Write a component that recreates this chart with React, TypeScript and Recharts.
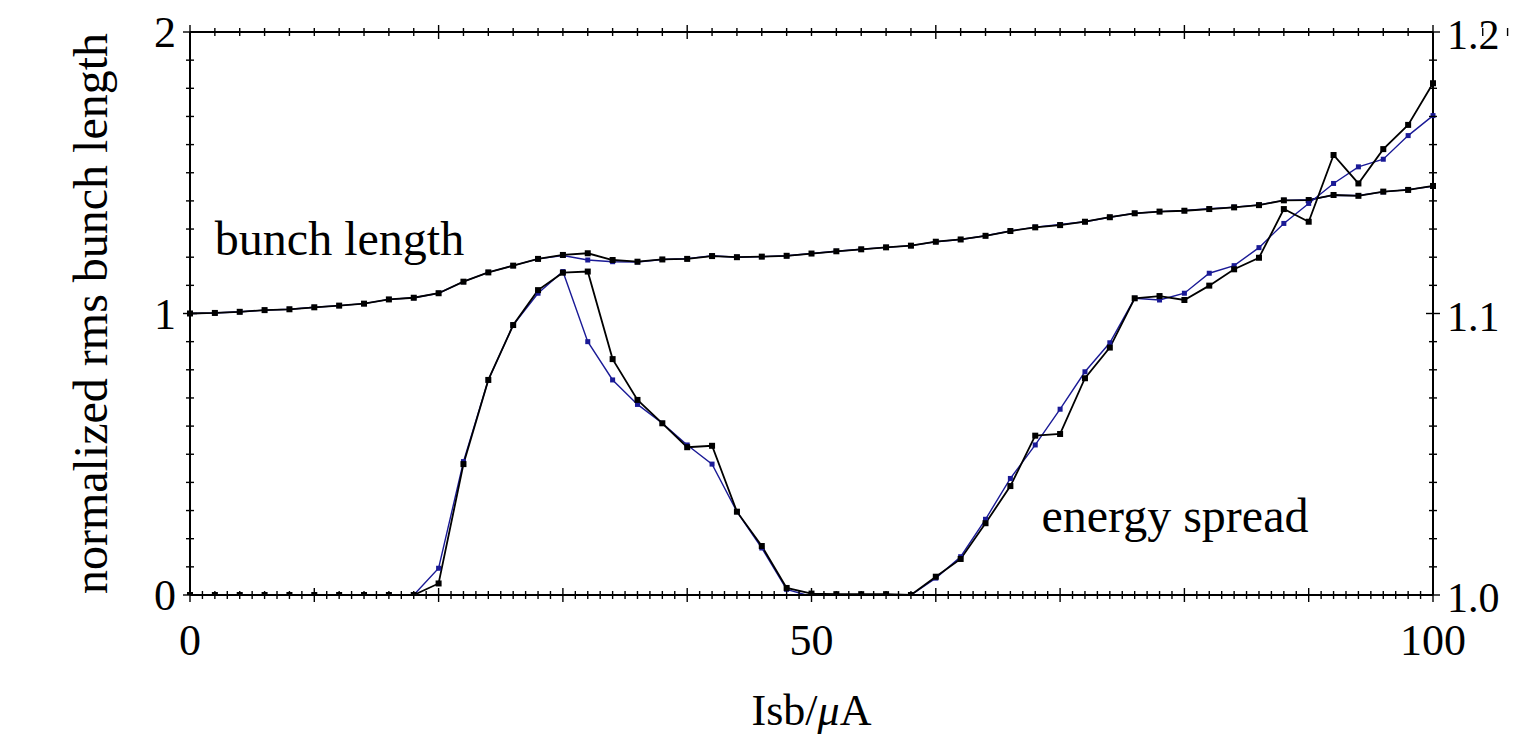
import React from 'react';
import { LineChart, Line, XAxis, YAxis, ReferenceDot } from 'recharts';

// beam current I_sb (µA)
const currents = [0, 2, 4, 6, 8, 10, 12, 14, 16, 18, 20, 22, 24, 26, 28, 30, 32, 34, 36, 38, 40, 42, 44, 46, 48, 50, 52, 54, 56, 58, 60, 62, 64, 66, 68, 70, 72, 74, 76, 78, 80, 82, 84, 86, 88, 90, 92, 94, 96, 98, 100];

// normalized rms bunch length (left axis)
const bunchLengthBlack = [1.000, 1.002, 1.006, 1.012, 1.015, 1.022, 1.028, 1.035, 1.050, 1.056, 1.072, 1.113, 1.146, 1.170, 1.194, 1.208, 1.214, 1.190, 1.184, 1.192, 1.194, 1.204, 1.200, 1.202, 1.205, 1.213, 1.221, 1.228, 1.235, 1.241, 1.255, 1.263, 1.276, 1.293, 1.306, 1.314, 1.326, 1.342, 1.356, 1.362, 1.365, 1.371, 1.377, 1.385, 1.402, 1.403, 1.421, 1.418, 1.433, 1.439, 1.453];
const bunchLengthBlue = [1.000, 1.002, 1.006, 1.012, 1.015, 1.022, 1.028, 1.035, 1.050, 1.056, 1.072, 1.113, 1.146, 1.170, 1.194, 1.206, 1.190, 1.184, 1.183, 1.192, 1.195, 1.205, 1.200, 1.202, 1.205, 1.213, 1.221, 1.228, 1.235, 1.241, 1.255, 1.263, 1.276, 1.293, 1.307, 1.316, 1.326, 1.342, 1.356, 1.362, 1.366, 1.372, 1.378, 1.386, 1.402, 1.404, 1.420, 1.419, 1.432, 1.440, 1.452];

// relative energy spread (right axis)
const energySpreadBlack = [1.0000, 1.0000, 1.0000, 1.0000, 1.0000, 1.0000, 1.0000, 1.0000, 1.0000, 1.0000, 1.0041, 1.0465, 1.0764, 1.0959, 1.1083, 1.1145, 1.1149, 1.0838, 1.0693, 1.0610, 1.0525, 1.0530, 1.0296, 1.0174, 1.0025, 1.0005, 1.0003, 1.0003, 1.0003, 1.0000, 1.0065, 1.0128, 1.0255, 1.0387, 1.0566, 1.0572, 1.0770, 1.0879, 1.1054, 1.1062, 1.1048, 1.1099, 1.1157, 1.1198, 1.1371, 1.1326, 1.1563, 1.1462, 1.1584, 1.1670, 1.1818];
const energySpreadBlue = [1.0000, 1.0000, 1.0000, 1.0000, 1.0000, 1.0000, 1.0000, 1.0000, 1.0000, 1.0000, 1.0095, 1.0474, 1.0764, 1.0959, 1.1072, 1.1149, 1.0900, 1.0764, 1.0677, 1.0610, 1.0533, 1.0465, 1.0296, 1.0167, 1.0020, 0.9995, 0.9995, 0.9995, 0.9995, 1.0000, 1.0060, 1.0136, 1.0269, 1.0414, 1.0533, 1.0660, 1.0793, 1.0896, 1.1054, 1.1048, 1.1072, 1.1143, 1.1170, 1.1234, 1.1320, 1.1391, 1.1462, 1.1521, 1.1548, 1.1632, 1.1703];

const xTickLabels = [0, 50, 100];
const leftTickLabels = [0, 1, 2];
const rightTickLabels = ['1.0', '1.1', '1.2'];

const data = currents.map((c, i) => ({
  I: c,
  blBlack: bunchLengthBlack[i],
  blBlue: bunchLengthBlue[i],
  esBlack: energySpreadBlack[i],
  esBlue: energySpreadBlue[i],
}));

const xMinorTicks = Array.from({ length: 101 }, (_, i) => i);
const leftMinorTicks = Array.from({ length: 21 }, (_, i) => i / 10);
const rightMinorTicks = Array.from({ length: 21 }, (_, i) => Math.round((1 + i / 100) * 100) / 100);

const FONT = '"Liberation Serif", "Times New Roman", serif';
const BLUE = '#1a1a96';

const SquareDot = (props: any) => {
  const { cx, cy, dotSize, dotColor } = props;
  if (cx == null || cy == null || isNaN(cx) || isNaN(cy)) return null;
  return <rect x={cx - dotSize / 2} y={cy - dotSize / 2} width={dotSize} height={dotSize} fill={dotColor} />;
};

const BottomTick = (props: any) => {
  const { x, y, payload } = props;
  const v = payload.value;
  const major = v % 10 === 0;
  const len = major ? 7 : 4;
  return (
    <g>
      <line x1={x} x2={x} y1={y - len} y2={y + len} stroke="#000" strokeWidth={1.4} />
      {xTickLabels.includes(v) && (
        <text x={x} y={y + 60} textAnchor="middle" fontSize={44} fontFamily={FONT} fill="#000">{v}</text>
      )}
    </g>
  );
};

const TopTick = (props: any) => {
  const { x, y, payload } = props;
  const v = payload.value;
  const major = v % 10 === 0;
  const len = major ? 7 : 4;
  return <line x1={x} x2={x} y1={y - len} y2={y + len} stroke="#000" strokeWidth={1.4} />;
};

const LeftTick = (props: any) => {
  const { x, y, payload } = props;
  const v = payload.value;
  const isLabel = leftTickLabels.some((l) => Math.abs(l - v) < 1e-9);
  const len = isLabel ? 7 : 4;
  return (
    <g>
      <line x1={x - len} x2={x + len} y1={y} y2={y} stroke="#000" strokeWidth={1.4} />
      {isLabel && (
        <text x={x - 14} y={y + 15} textAnchor="end" fontSize={44} fontFamily={FONT} fill="#000">{Math.round(v)}</text>
      )}
    </g>
  );
};

const RightTick = (props: any) => {
  const { x, y, payload } = props;
  const v = payload.value;
  const label = rightTickLabels.find((l) => Math.abs(parseFloat(l) - v) < 1e-9);
  const len = label ? 7 : 4;
  return (
    <g>
      <line x1={x - len} x2={x + len} y1={y} y2={y} stroke="#000" strokeWidth={1.4} />
      {label && (
        <text x={x + 14} y={y + 17} textAnchor="start" fontSize={42} fontFamily={FONT} fill="#000">{label}</text>
      )}
    </g>
  );
};

const LeftTitle = (props: any) => {
  const vb = props.viewBox || { x: 0, y: 32, width: 190, height: 563 };
  const cx = vb.x + 90;
  const cy = vb.y + vb.height / 2;
  return (
    <text x={cx} y={cy} transform={`rotate(-90, ${cx}, ${cy})`} textAnchor="middle" dominantBaseline="central" fontSize={48} fontFamily={FONT} fill="#000">
      normalized rms bunch length
    </text>
  );
};

const XTitle = (props: any) => {
  const vb = props.viewBox || { x: 190, y: 595, width: 1243, height: 139 };
  const cx = vb.x + vb.width / 2;
  return (
    <text x={cx} y={vb.y + 130} textAnchor="middle" fontSize={44} fontFamily={FONT} fill="#000">
      <tspan>Isb/</tspan>
      <tspan fontStyle="italic">μ</tspan>
      <tspan>A</tspan>
    </text>
  );
};

const Annotation = (text: string) => (props: any) => {
  const vb = props.viewBox;
  if (!vb) return null;
  return (
    <text x={vb.x + vb.width / 2} y={vb.y + vb.height / 2} textAnchor="start" fontSize={48} fontFamily={FONT} fill="#000">
      {text}
    </text>
  );
};

export default function App() {
  return (
    <div style={{ position: 'absolute', left: 0, top: 0, background: '#fff' }}>
      <LineChart width={1531} height={734} data={data} margin={{ top: 0, right: 0, bottom: 0, left: 0 }}>
        <XAxis
          dataKey="I"
          type="number"
          domain={[0, 100]}
          ticks={xMinorTicks}
          interval={0}
          tickSize={0}
          tickMargin={0}
          tickLine={false}
          tick={<BottomTick />}
          height={139}
          axisLine={{ stroke: '#000', strokeWidth: 2 }}
          label={{ content: XTitle }}
        />
        <XAxis
          xAxisId="top"
          orientation="top"
          type="number"
          domain={[0, 100]}
          ticks={xMinorTicks}
          interval={0}
          tickSize={0}
          tickMargin={0}
          tickLine={false}
          tick={<TopTick />}
          height={32}
          axisLine={{ stroke: '#000', strokeWidth: 2 }}
        />
        <YAxis
          yAxisId="left"
          type="number"
          domain={[0, 2]}
          ticks={leftMinorTicks}
          interval={0}
          tickSize={0}
          tickMargin={0}
          tickLine={false}
          tick={<LeftTick />}
          width={190}
          axisLine={{ stroke: '#000', strokeWidth: 2 }}
          label={{ content: LeftTitle }}
        />
        <YAxis
          yAxisId="right"
          orientation="right"
          type="number"
          domain={[1.0, 1.2]}
          allowDataOverflow
          ticks={rightMinorTicks}
          interval={0}
          tickSize={0}
          tickMargin={0}
          tickLine={false}
          tick={<RightTick />}
          width={98}
          axisLine={{ stroke: '#000', strokeWidth: 2 }}
        />
        <Line yAxisId="left" dataKey="blBlue" stroke={BLUE} strokeWidth={1.4} isAnimationActive={false} dot={<SquareDot dotSize={5} dotColor={BLUE} />} activeDot={false} />
        <Line yAxisId="left" dataKey="blBlack" stroke="#000" strokeWidth={1.8} isAnimationActive={false} dot={<SquareDot dotSize={6} dotColor="#000" />} activeDot={false} />
        <Line yAxisId="right" dataKey="esBlue" stroke={BLUE} strokeWidth={1.4} isAnimationActive={false} dot={<SquareDot dotSize={5} dotColor={BLUE} />} activeDot={false} />
        <Line yAxisId="right" dataKey="esBlack" stroke="#000" strokeWidth={1.8} isAnimationActive={false} dot={<SquareDot dotSize={6} dotColor="#000" />} activeDot={false} />
        <ReferenceDot yAxisId="left" x={2} y={1.208} r={0.5} fill="none" stroke="none" label={{ content: Annotation('bunch length') }} />
        <ReferenceDot yAxisId="left" x={68.5} y={0.224} r={0.5} fill="none" stroke="none" label={{ content: Annotation('energy spread') }} />
      </LineChart>
    </div>
  );
}
